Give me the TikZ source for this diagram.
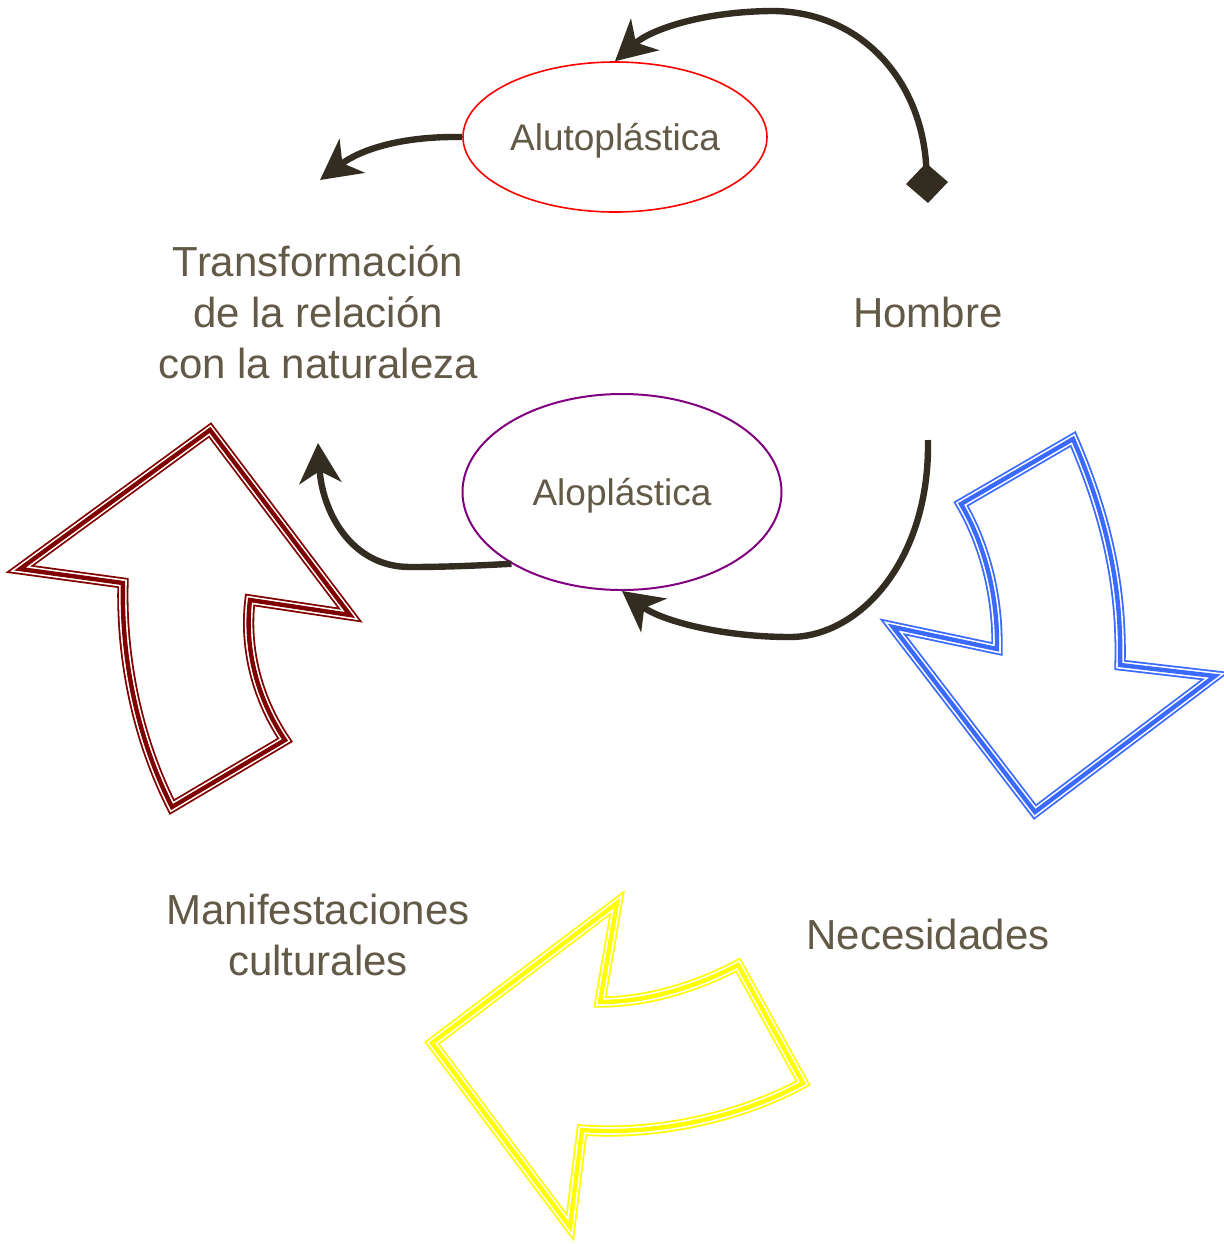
\documentclass[tikz,border=0pt]{standalone}
\usepackage{fontspec}
\setmainfont{Liberation Sans}
\usetikzlibrary{arrows.meta,shapes.geometric}
\definecolor{txt}{RGB}{98,89,70}
\definecolor{conncol}{RGB}{50,45,32}
\definecolor{bluecol}{RGB}{58,106,255}
\definecolor{redcol}{RGB}{128,0,0}
\definecolor{yelcol}{RGB}{255,255,0}
\definecolor{purpcol}{RGB}{128,0,128}
\begin{document}
\begin{tikzpicture}[x=0.5pt,y=-0.5pt,
  lbl/.style={font=\fontsize{21}{25.5}\selectfont, text=txt, inner sep=0pt, align=center},
  elab/.style={ellipse, inner sep=0pt, text height=13pt, text depth=0pt, font=\fontsize{18.5}{22}\selectfont, text=txt},
  link/.style={draw=conncol, line width=3.2pt, -{Stealth[length=20pt,width=21pt,inset=6pt]}},
  block/.style={draw=#1, line width=2.2pt, line join=miter,
    preaction={draw=#1, line width=5.6pt},
    preaction={draw=white, line width=3.8pt}}
]
\useasboundingbox (0,0) rectangle (1224,1244);

% ellipses
\node[elab, draw=red, line width=0.8pt, minimum width=152pt, minimum height=75pt] (alut) at (615,137) {Alutoplástica};
\node[elab, draw=purpcol, line width=1pt, minimum width=159.5pt, minimum height=98pt] (alop) at (622,492) {Aloplástica};

% labels
\node[lbl, anchor=north] (trans) at (318,245) {Transformación\\de la relación\\con la naturaleza};
\node[lbl, anchor=base] (hombre) at (928,327) {Hombre};
\node[lbl, anchor=base] (nec) at (928,949) {Necesidades};
\node[lbl, anchor=north] (manif) at (318,894) {Manifestaciones\\culturales};

% free ends
\coordinate (hA) at (928,203);
\coordinate (hB) at (928,440);
\coordinate (tA) at (320,180);
\coordinate (tB) at (318,443);

% connectors
\draw[link, {Diamond[length=20pt,width=21pt]}-{Stealth[length=20pt,width=21pt,inset=6pt]}]
  (hA) .. controls (922,80) and (860,10) .. (770,11) .. controls (700,12) and (650,30) .. (alut.north);
\draw[link] (alut.west) .. controls (400,136) and (360,150) .. (tA);
\draw[link] (hB) .. controls (930,560) and (860,637) .. (790,637) .. controls (720,637) and (660,620) .. (alop.south);
\draw[link] (alop.213) .. controls (470,566) and (440,567) .. (410,567) .. controls (350,567) and (322,510) .. (tB);

% block arrows
\draw[block=bluecol] (1073,439) -- (961,504) .. controls (982,540) and (998,590) .. (997,649)
  -- (893,627) -- (1035,812) -- (1215,676) -- (1120,665) .. controls (1122,590) and (1108,520) .. cycle;
\draw[block=redcol] (210,430) -- (350,615) -- (250,600) .. controls (244,650) and (258,700) .. (285,740)
  -- (172,807) .. controls (138,740) and (121,660) .. (123,583) -- (20,569) -- cycle;
\draw[block=yelcol] (617,903) -- (432,1043) -- (570,1227) -- (582,1130) .. controls (660,1136) and (745,1115) .. (803,1083)
  -- (738,965) .. controls (700,985) and (650,1002) .. (600,1002) -- cycle;
\end{tikzpicture}
\end{document}
